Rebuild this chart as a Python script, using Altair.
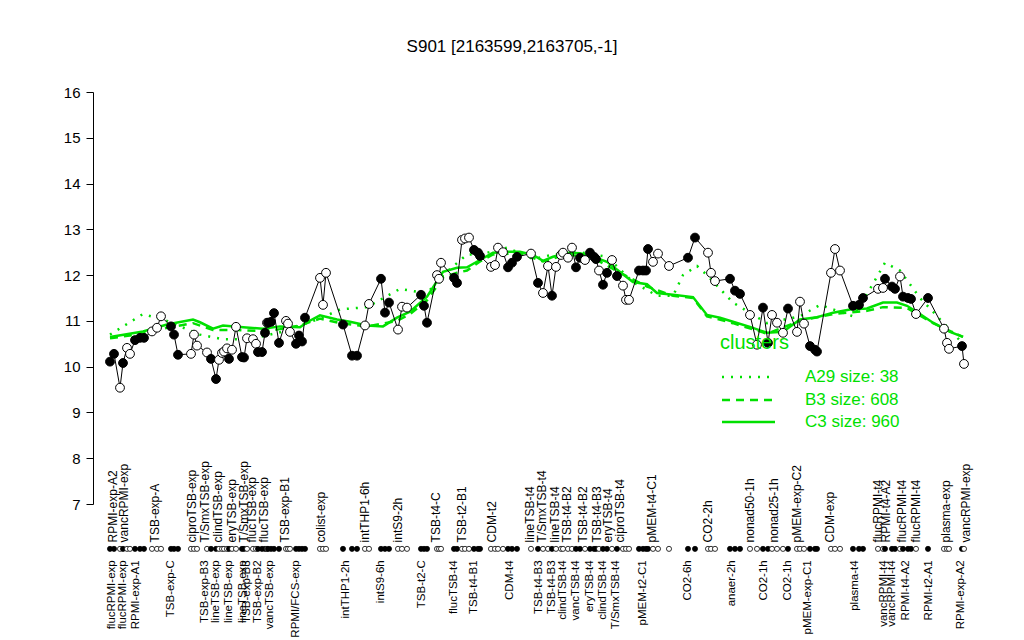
import altair as alt
import pandas as pd

# sample positions (index-like units along the x axis), expression values, filled flag
pos = [110,114,120,123,127,130,135,140,144,152,157,161,171,174,178,191,194,197,207,211,
       216,219,222,224,227,229,232,236,242,244,247,253,256,258,262,265,267,268,271,274,
       279,286,288,290,296,299,302,305,320,323,326,343,352,357,365,369,381,385,389,398,
       402,407,421,424,427,437,439,441,454,457,462,465,469,474,478,480,491,495,498,503,
       508,512,517,531,538,543,548,552,556,561,563,568,572,576,580,585,590,594,596,599,
       603,607,612,617,623,626,629,639,643,646,648,653,658,669,688,695,708,711,715,730,
       735,740,750,757,763,768,772,777,783,788,797,800,804,810,815,817,831,835,840,853,
       859,863,878,883,885,892,895,900,903,908,911,916,928,944,947,949,962,964]
val = [10.11,10.28,9.54,10.08,10.41,10.28,10.58,10.63,10.63,10.77,10.85,11.10,10.88,10.70,10.26,10.28,10.70,10.46,10.31,10.17,
       9.73,10.15,10.30,10.33,10.40,10.17,10.37,10.87,10.21,10.20,10.62,10.60,10.50,10.32,10.32,10.74,10.96,10.96,10.98,11.17,
       10.52,11.00,10.94,10.76,10.50,10.68,10.55,11.07,11.94,11.35,12.05,10.92,10.24,10.24,10.90,11.37,11.92,11.18,11.40,10.81,
       11.31,11.29,11.57,11.33,10.96,12.00,11.92,12.27,11.94,11.83,12.77,12.80,12.82,12.55,12.49,12.42,12.18,12.22,12.60,12.50,
       12.17,12.27,12.40,12.47,11.83,11.61,12.20,11.55,12.18,12.44,12.49,12.38,12.60,12.17,12.38,12.33,12.49,12.40,12.35,12.10,
       11.79,12.05,12.33,11.98,11.77,11.46,11.46,12.10,12.10,12.10,12.57,12.29,12.47,12.20,12.38,12.82,12.49,12.05,11.87,11.92,
       11.66,11.59,11.13,10.48,11.29,10.52,11.13,10.96,10.74,11.27,10.76,11.42,10.94,10.45,10.37,10.33,12.05,12.57,12.10,11.33,
       11.35,11.50,11.70,11.72,11.92,11.75,11.70,11.97,11.53,11.50,11.48,11.15,11.50,10.83,10.52,10.39,10.45,10.06]
filled = [1,1,0,1,0,0,1,1,1,0,0,0,1,1,1,0,0,0,0,1,
          1,0,0,0,0,1,0,0,1,1,0,0,0,1,1,1,0,1,1,1,
          1,0,0,0,1,1,1,1,0,0,0,1,1,1,0,0,1,1,1,0,
          0,0,1,1,1,0,0,0,1,1,0,0,0,1,1,1,0,0,0,0,
          1,1,1,0,1,0,0,1,0,0,0,0,0,1,1,0,1,1,1,0,
          1,1,0,1,0,0,0,1,1,1,1,0,0,0,1,1,0,0,0,1,
          1,1,0,0,1,1,0,0,0,1,0,0,0,1,1,1,0,0,0,1,
          1,1,0,0,1,1,1,0,1,1,1,0,1,0,0,0,1,0]

top_pos = [113,124,155,192,205,218,232,244,252,264,285,321,365,398,436,462,492,530,542,555,
           567,583,597,608,620,652,708,750,774,797,830,878,886,902,916,946,966]
top_lab = ["RPMI-exp-A2","vancRPMI-exp","TSB-exp-A","ciproTSB-exp","T/SmxTSB-exp","clindTSB-exp",
           "eryTSB-exp","T/SmxTSB-exp","flucTSB-exp","flucTSB-exp","TSB-exp-B1","colist-exp",
           "intTHP1-6h","intS9-2h","TSB-t4-C","TSB-t2-B1","CDM-t2","lineTSB-t4","T/SmxTSB-t4",
           "lineTSB-t4","TSB-t4-B2","TSB-t4-B2","TSB-t4-B3","eryTSB-t4","ciproTSB-t4","pMEM-t4-C1",
           "CO2-2h","nonad50-1h","nonad25-1h","pMEM-exp-C2","CDM-exp","flucRPMI-t4","RPMI-t4-A2",
           "flucRPMI-t4","flucRPMI-t4","plasma-exp","vancRPMI-exp"]
bot_pos = [112,123,136,171,205,216,229,243,247,258,270,296,346,381,422,454,474,510,539,552,
           563,576,590,603,616,643,688,732,764,788,808,855,884,892,906,929,961]
bot_lab = ["flucRPMI-exp","flucRPMI-exp","RPMI-exp-A1","TSB-exp-C","TSB-exp-B3","lineTSB-exp",
           "lineTSB-exp","lineTSB-exp","TSB-exp-B3","TSB-exp-B2","vancTSB-exp","RPMI/FCS-exp",
           "intTHP1-2h","intS9-6h","TSB-t2-C","flucTSB-t4","TSB-t4-B1","CDM-t4","TSB-t4-B3",
           "TSB-t4-B3","clindTSB-t4","vancTSB-t4","eryTSB-t4","clindTSB-t4","T/SmxTSB-t4",
           "pMEM-t2-C1","CO2-6h","anaer-2h","CO2-1h","CO2-1h","pMEM-exp-C1","plasma-t4",
           "vancRPMI-t4","vancRPMI-t4","RPMI-t4-A2","RPMI-t2-A1","RPMI-exp-A2"]

c3_pos = [110,143,167,193,200,213,223,237,263,280,300,307,320,337,350,367,383,397,410,427,
          443,457,467,480,493,507,520,533,543,553,567,580,593,607,620,633,647,657,673,693,
          707,720,733,750,767,783,800,817,833,850,867,883,897,907,920,933,950,963]
c3_val = [10.65,10.77,10.92,11.03,10.97,10.83,10.90,10.87,10.83,10.88,10.86,10.97,11.12,11.03,10.98,10.90,10.88,11.07,11.20,11.53,
          12.07,12.16,12.17,12.33,12.49,12.51,12.51,12.44,12.31,12.40,12.49,12.48,12.40,12.29,12.07,11.85,11.80,11.61,11.57,11.52,
          11.13,11.07,10.98,10.87,10.74,10.76,11.03,11.08,11.18,11.25,11.27,11.40,11.40,11.33,11.15,10.96,10.76,10.65]
b3_pos = [110,143,167,193,213,237,263,280,300,320,340,367,397,410,427,443,457,467,480,493,
          520,543,567,593,620,647,673,693,707,733,767,800,833,867,883,907,933,963]
b3_val = [10.62,10.72,10.85,10.95,10.80,10.80,10.78,10.82,10.90,11.05,10.95,10.88,11.00,11.15,11.45,11.95,12.05,12.10,12.30,12.45,
          12.48,12.30,12.45,12.38,12.05,11.75,11.55,11.50,11.10,10.95,10.72,11.00,11.15,11.22,11.30,11.28,10.95,10.65]
a29_pos = [110,143,167,200,223,250,280,300,320,340,367,400,427,443,467,480,507,533,553,580,
           607,633,657,673,683,697,707,733,767,800,820,853,870,885,900,920,933,963]
a29_val = [10.70,11.15,11.00,10.70,10.60,10.60,10.75,10.90,11.05,11.25,11.30,11.70,11.60,12.00,12.45,12.45,12.60,12.35,12.45,12.50,
           12.40,11.85,11.55,11.55,12.00,12.20,12.00,11.40,10.95,11.10,11.35,11.10,11.70,12.27,12.10,11.50,11.20,10.50]

GREEN = "#00e000"
FONT = "Liberation Sans"

pts = pd.DataFrame({"pos": pos, "val": val, "filled": filled})
tops = pd.DataFrame({"pos": top_pos, "lab": top_lab})
bots = pd.DataFrame({"pos": bot_pos, "lab": bot_lab})
c3 = pd.DataFrame({"pos": c3_pos, "val": c3_val})
b3 = pd.DataFrame({"pos": b3_pos, "val": b3_val})
a29 = pd.DataFrame({"pos": a29_pos, "val": a29_val})

xs = alt.Scale(domain=[93, 975], nice=False, zero=False)
ys = alt.Scale(domain=[7, 16], nice=False, zero=False)
X = alt.X("pos:Q", scale=xs, axis=None)
Y = alt.Y("val:Q", scale=ys,
          axis=alt.Axis(values=list(range(7, 17)), title=None, grid=False, tickSize=7,
                        labelFontSize=15, labelFont=FONT, labelColor="black",
                        domainColor="black", tickColor="black", labelPadding=6))

line_c3 = alt.Chart(c3).mark_line(color=GREEN, strokeWidth=2.5).encode(x=X, y=Y)
line_b3 = alt.Chart(b3).mark_line(color=GREEN, strokeWidth=2.5, strokeDash=[8, 6]).encode(x=X, y=Y)
line_a29 = alt.Chart(a29).mark_line(color=GREEN, strokeWidth=2.5, strokeDash=[2, 7]).encode(x=X, y=Y)

black_line = alt.Chart(pts).mark_line(color="black", strokeWidth=1).encode(x=X, y=Y)
fill_scale = alt.Scale(domain=[0, 1], range=["white", "black"])
points = alt.Chart(pts).mark_point(shape="circle", filled=True, stroke="black",
                                   strokeWidth=1, size=78, opacity=1).encode(
    x=X, y=Y, fill=alt.Fill("filled:N", scale=fill_scale, legend=None))
row = alt.Chart(pts).mark_point(shape="circle", filled=True, stroke="black",
                                strokeWidth=0.8, size=26, opacity=1).encode(
    x=X, y=alt.datum(6.02, scale=ys), fill=alt.Fill("filled:N", scale=fill_scale, legend=None))

top_txt = alt.Chart(tops).mark_text(angle=270, align="left", baseline="middle",
                                    fontSize=12, font=FONT, color="black").encode(
    x=X, y=alt.datum(6.16, scale=ys), text="lab:N")
bot_txt = alt.Chart(bots).mark_text(angle=270, align="right", baseline="middle",
                                    fontSize=11.5, font=FONT, color="black").encode(
    x=X, y=alt.datum(5.77, scale=ys), text="lab:N")

one = pd.DataFrame({"a": [0]})
title = alt.Chart(one).mark_text(fontSize=17, font=FONT, color="black", align="center",
                                 baseline="middle").encode(
    x=alt.value(419), y=alt.value(-45), text=alt.value("S901 [2163599,2163705,-1]"))

leg_title = alt.Chart(one).mark_text(fontSize=20, font=FONT, color=GREEN, align="left",
                                     baseline="middle").encode(
    x=alt.value(627), y=alt.value(251), text=alt.value("clusters"))
leg_items = []
for yy, lab, dash in [(285, "A29 size: 38", [2, 7]), (308, "B3 size: 608", [8, 6]),
                      (330, "C3 size: 960", None)]:
    kw = dict(color=GREEN, strokeWidth=2.5)
    if dash:
        kw["strokeDash"] = dash
    leg_items.append(alt.Chart(one).mark_rule(**kw).encode(
        x=alt.value(629), x2=alt.value(682), y=alt.value(yy)))
    leg_items.append(alt.Chart(one).mark_text(fontSize=17, font=FONT, color=GREEN, align="left",
                                              baseline="middle").encode(
        x=alt.value(712), y=alt.value(yy), text=alt.value(lab)))

chart = alt.layer(line_c3, line_b3, line_a29, black_line, points, row, top_txt, bot_txt,
                  title, leg_title, *leg_items).properties(
    width=882, height=412,
    autosize=alt.AutoSizeParams(type="none"),
    padding={"left": 85, "top": 84, "right": 40, "bottom": 140},
).configure_view(stroke=None)

chart.save("out.html", embed_options={"renderer": "svg", "actions": False})
